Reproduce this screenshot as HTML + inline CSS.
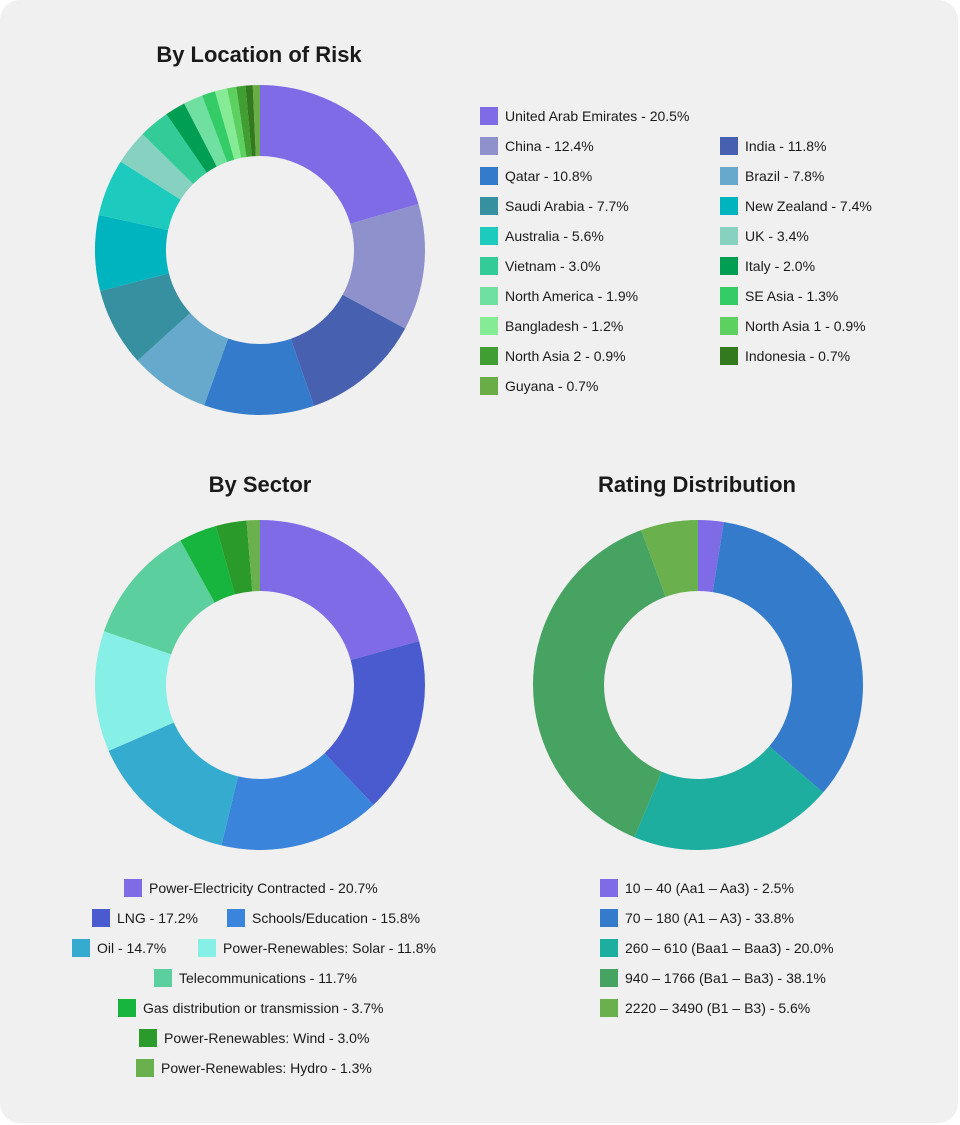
<!DOCTYPE html>
<html><head><meta charset="utf-8">
<style>
html,body{margin:0;padding:0;background:#fff;}
#card{position:absolute;left:0;top:0;width:958px;height:1123px;background:#f0f0f0;border-radius:20px;overflow:hidden;font-family:"Liberation Sans",sans-serif;color:#1a1a1a;}
.title{position:absolute;font-weight:bold;font-size:22px;text-align:center;width:400px;margin-left:-200px;}
.lg{position:absolute;font-size:14px;white-space:nowrap;line-height:18px;}
.lg i{position:absolute;left:0;top:0;width:18px;height:18px;}
.lg span{position:absolute;left:25px;top:0;}
svg{position:absolute;left:0;top:0;}
</style></head>
<body>
<div id="card">
<div class="title" style="left:259px;top:42px">By Location of Risk</div>
<div class="title" style="left:260px;top:472px">By Sector</div>
<div class="title" style="left:697px;top:472px">Rating Distribution</div>
<svg id="svg" width="958" height="1123"></svg>
</div>
<script>
const locLabels=["United Arab Emirates","China","India","Qatar","Brazil","Saudi Arabia","New Zealand","Australia","UK","Vietnam","Italy","North America","SE Asia","Bangladesh","North Asia 1","North Asia 2","Indonesia","Guyana"];
const locValues=[20.5,12.4,11.8,10.8,7.8,7.7,7.4,5.6,3.4,3.0,2.0,1.9,1.3,1.2,0.9,0.9,0.7,0.7];
const locColors=["#7f6be6","#8f91cc","#4761b0","#357bcc","#66a9cc","#3690a0","#00b4bf","#1ccbbd","#87d1c1","#33cc99","#009e52","#70e0a0","#33cc66","#85eb95","#5cd160","#409e33","#337a1f","#6aad47"];
const secLabels=["Power-Electricity Contracted","LNG","Schools/Education","Oil","Power-Renewables: Solar","Telecommunications","Gas distribution or transmission","Power-Renewables: Wind","Power-Renewables: Hydro"];
const secValues=[20.7,17.2,15.8,14.7,11.8,11.7,3.7,3.0,1.3];
const secColors=["#7f6be6","#4a5bcf","#3a84db","#35abd0","#86efe6","#5ccf9e","#17b53e","#2a9a2a","#6ab04c"];
const ratLabels=["10 – 40 (Aa1 – Aa3)","70 – 180 (A1 – A3)","260 – 610 (Baa1 – Baa3)","940 – 1766 (Ba1 – Ba3)","2220 – 3490 (B1 – B3)"];
const ratValues=[2.5,33.8,20.0,38.1,5.6];
const ratColors=["#7f6be6","#357bcc","#1eae9f","#47a361","#6ab04c"];

const svg=document.getElementById('svg');
const NS="http://www.w3.org/2000/svg";
function donut(cx,cy,R,r,vals,cols,labels,name){
  const tot=vals.reduce((a,b)=>a+b,0);
  let a0=-Math.PI/2;
  vals.forEach((v,i)=>{
    const a1=a0+v/tot*2*Math.PI;
    const big=(a1-a0)>Math.PI?1:0;
    const p=(rr,a)=>[cx+rr*Math.cos(a),cy+rr*Math.sin(a)];
    const [x1,y1]=p(R,a0),[x2,y2]=p(R,a1),[x3,y3]=p(r,a1),[x4,y4]=p(r,a0);
    const el=document.createElementNS(NS,'path');
    el.setAttribute('d',`M${x1},${y1}A${R},${R} 0 ${big} 1 ${x2},${y2}L${x3},${y3}A${r},${r} 0 ${big} 0 ${x4},${y4}Z`);
    el.setAttribute('fill',cols[i]);
    
    
    svg.appendChild(el);
    a0=a1;
  });
}
donut(260,250,165,94,locValues,locColors,locLabels,'location');
donut(260,685,165,94,secValues,secColors,secLabels,'sector');
donut(698,685,165,94,ratValues,ratColors,ratLabels,'rating');

const card=document.getElementById('card');
function legend(x,y,color,text,name){
  const d=document.createElement('div');
  d.className='lg';
  d.style.left=x+'px';d.style.top=y+'px';
  d.innerHTML='<i style="background:'+color+'"></i><span>'+text+'</span>';
  
  
  card.appendChild(d);
}
// location legend: first item alone, then two columns
locLabels.forEach((l,i)=>{
  let x,y;
  if(i===0){x=480;y=107;}
  else{const k=i-1;x=(k%2===0)?480:720;y=137+Math.floor(k/2)*30;}
  legend(x,y,locColors[i],l+' - '+locValues[i].toFixed(1)+'%','location-legend-entry');
});
const secPos=[[124,879],[92,909],[227,909],[72,939],[198,939],[154,969],[118,999],[139,1029],[136,1059]];
secLabels.forEach((l,i)=>{
  legend(secPos[i][0],secPos[i][1],secColors[i],l+' - '+secValues[i].toFixed(1)+'%','sector-legend-entry');
});
ratLabels.forEach((l,i)=>{
  legend(600,879+i*30,ratColors[i],l+' - '+ratValues[i].toFixed(1)+'%','rating-legend-entry');
});
</script>
</body></html>
